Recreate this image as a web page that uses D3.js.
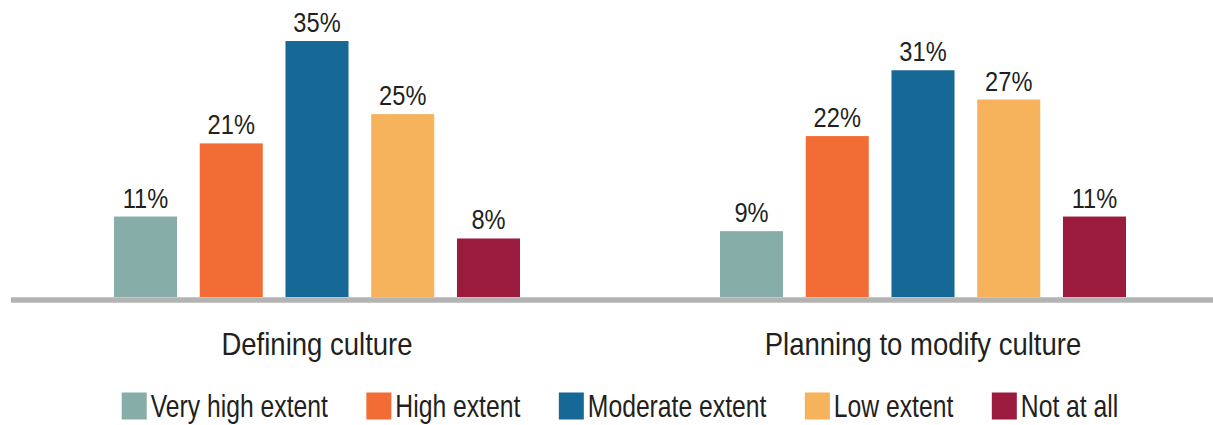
<!DOCTYPE html>
<html>
<head>
<meta charset="utf-8">
<script src="https://cdn.jsdelivr.net/npm/d3@7"></script>
<style>
  html, body { margin: 0; padding: 0; background: #fff; }
  svg { display: block; }
  text { font-family: "Liberation Sans", Arial, sans-serif; fill: #231f20; }
</style>
</head>
<body>
<svg id="chart" width="1213" height="425"></svg>
<script>
const categories = ["Defining culture", "Planning to modify culture"];
const series = ["Very high extent", "High extent", "Moderate extent", "Low extent", "Not at all"];
const colors = ["#87ada8", "#f26c35", "#166896", "#f6b35b", "#9b1b3e"];
const definingValues = [11, 21, 35, 25, 8];
const planningValues = [9, 22, 31, 27, 11];
const valuesByCategory = [definingValues, planningValues];

const svg = d3.select("#chart");
const W = 1213;
const baseY = 297;
const squeeze = 0.83;

const x0 = d3.scaleBand().domain(categories).range([14, 1226]).padding(0);
const x1 = d3.scaleBand().domain(series).range([100, 506]).paddingInner(0.265).paddingOuter(0);
const y = d3.scaleLinear().domain([0, 35]).range([baseY, 41]);
const color = d3.scaleOrdinal().domain(series).range(colors);

const data = [];
categories.forEach((c, ci) => {
  series.forEach((s, si) => data.push({ cat: c, ser: s, val: valuesByCategory[ci][si] }));
});

const g = svg.append("g");
g.selectAll("rect.bar").data(data).join("rect")
  .attr("class", "bar")
  .attr("x", d => x0(d.cat) + x1(d.ser))
  .attr("width", x1.bandwidth())
  .attr("y", d => y(d.val))
  .attr("height", d => y(0) - y(d.val))
  .attr("fill", d => color(d.ser));

const vals = g.selectAll("g.val").data(data).join("g")
  .attr("class", "val")
  .attr("transform", d => `translate(${x0(d.cat) + x1(d.ser) + x1.bandwidth() / 2},${y(d.val) - 9}) scale(${squeeze},1)`);
vals.append("text")
  .attr("text-anchor", "middle")
  .style("font-size", "28.5px")
  .text(d => d.val + "%");

// baseline
svg.append("line")
  .attr("x1", 11).attr("x2", W)
  .attr("y1", baseY + 3).attr("y2", baseY + 3)
  .attr("stroke", "#b3b3b3").attr("stroke-width", 5.5);

// category labels
const cats = svg.selectAll("g.cat").data(categories).join("g")
  .attr("class", "cat")
  .attr("transform", d => `translate(${x0(d) + x0.bandwidth() / 2},355) scale(0.86,1)`);
cats.append("text")
  .attr("text-anchor", "middle")
  .style("font-size", "32px")
  .text(d => d);

// legend
const legK = 0.81;
const legend = svg.append("g");
const items = legend.selectAll("g.item").data(series).join("g").attr("class", "item");
items.append("rect")
  .attr("width", 25).attr("height", 27)
  .attr("y", 392.5)
  .attr("fill", d => color(d));
items.append("g")
  .attr("transform", `translate(29,417) scale(${legK},1)`)
  .append("text")
  .style("font-size", "30.5px")
  .text(d => d);
let widths = [];
items.each(function() { widths.push(29 + legK * d3.select(this).select("text").node().getComputedTextLength()); });
const gap = 38.5;
const total = d3.sum(widths) + gap * (widths.length - 1);
let cx = 620 - total / 2;
items.each(function(d, i) {
  d3.select(this).attr("transform", `translate(${cx},0)`);
  cx += widths[i] + gap;
});
</script>
</body>
</html>
